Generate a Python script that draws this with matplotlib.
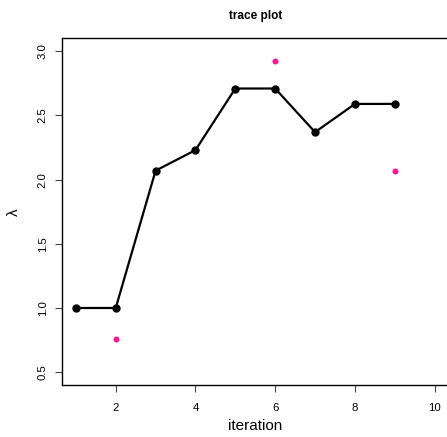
import matplotlib
matplotlib.use('Agg')
import matplotlib.pyplot as plt

plt.rcParams['font.family'] = ['Liberation Sans', 'DejaVu Sans']

# trace of lambda over the iterations
iteration = [1, 2, 3, 4, 5, 6, 7, 8, 9]
lam = [1.00, 1.00, 2.07, 2.23, 2.71, 2.71, 2.37, 2.59, 2.59]

# proposals that were rejected
prop_iter = [2, 6, 9]
prop_lam = [0.755, 2.925, 2.07]

x_ticks = [2, 4, 6, 8, 10]
y_ticks = [0.5, 1.0, 1.5, 2.0, 2.5, 3.0]

fig = plt.figure(figsize=(4.47, 4.37), dpi=100)
ax = fig.add_axes([0.1376, 0.119, 0.8669, 0.793])

ax.plot(iteration, lam, color='black', linewidth=1.6, marker='o',
        markersize=5, zorder=3)
ax.plot(prop_iter, prop_lam, linestyle='none', marker='o', markersize=4.3,
        color='#FF1493', markeredgewidth=0, zorder=3)

# R style axis ranges (4% padding)
ax.set_xlim(1 - 0.36, 10 + 0.36)
ax.set_ylim(0.5 - 0.1, 3.0 + 0.1)

ax.set_xticks(x_ticks)
ax.set_yticks(y_ticks)
ax.set_xticklabels([str(t) for t in x_ticks])
ax.set_yticklabels(['%.1f' % t for t in y_ticks], rotation=90, va='center')
ax.tick_params(direction='out', length=5, width=0.8, color='#444444',
               labelsize=8.2, pad=8)
ax.tick_params(axis='y', pad=5)

for s in ax.spines.values():
    s.set_linewidth(1.0)

ax.set_xlabel('iteration', fontsize=11, labelpad=4)
ax.set_ylabel('\u03bb', fontsize=11, labelpad=12)
ax.set_title('trace plot', fontsize=8.5, fontweight='bold', pad=14)

plt.savefig('out.png', dpi=100)
